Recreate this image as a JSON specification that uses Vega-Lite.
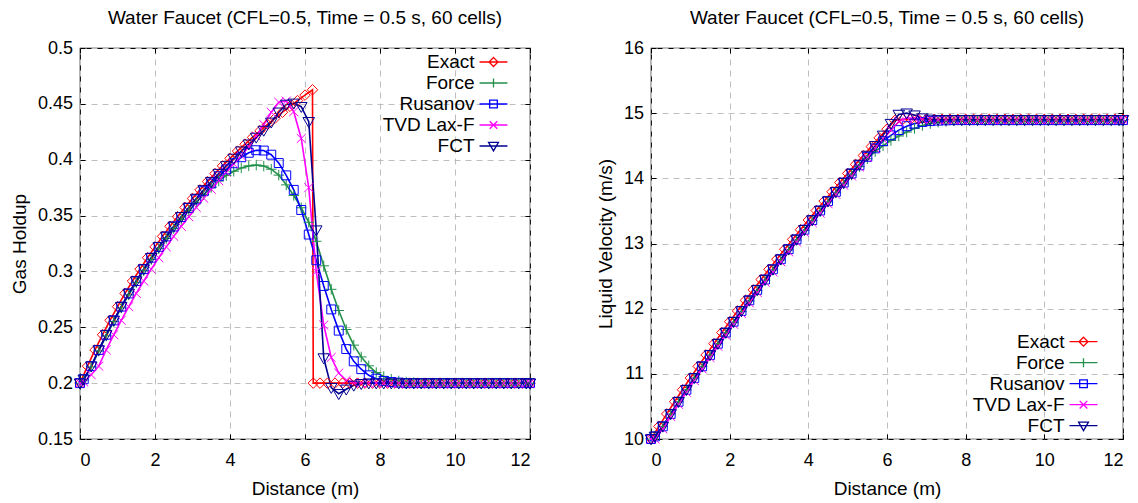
{
"$schema": "https://vega.github.io/schema/vega-lite/v6.json",
"background": "white",
"padding": {"left": 9, "top": 8, "right": 0, "bottom": 0},
"config": {
  "font": "Liberation Sans",
  "view": {"stroke": "black", "strokeWidth": 1.2},
  "axis": {
    "labelFont": "Liberation Sans", "labelFontSize": 18, "labelColor": "black",
    "titleFont": "Liberation Sans", "titleFontSize": 19, "titleFontWeight": "normal", "titleColor": "black",
    "domain": false, "ticks": true, "tickSize": -5, "tickColor": "black", "tickWidth": 1,
    "grid": true, "gridColor": "#bebebe", "gridDash": [6, 5], "gridWidth": 1,
    "format": "~g"
  },
  "axisX": {"labelPadding": 17, "titlePadding": 10},
  "axisY": {"labelPadding": 12.5, "titlePadding": 8},
  "legend": {
    "title": null, "labelFont": "Liberation Sans", "labelFontSize": 19, "labelColor": "black",
    "symbolSize": 81, "symbolStrokeWidth": 1.3, "symbolFillColor": "transparent", "rowPadding": 1, "padding": 0
  },
  "title": {"fontSize": 19, "fontWeight": "normal", "color": "black", "font": "Liberation Sans", "offset": 11}
},
"datasets": {
"gas": [
{"m":"Exact","x":0,"y":0.2},{"m":"Exact","x":0.2,"y":0.2152},{"m":"Exact","x":0.4,"y":0.2297},{"m":"Exact","x":0.6,"y":0.2433},{"m":"Exact","x":0.8,"y":0.2562},{"m":"Exact","x":1,"y":0.2685},{"m":"Exact","x":1.2,"y":0.2803},{"m":"Exact","x":1.4,"y":0.2914},{"m":"Exact","x":1.6,"y":0.3021},{"m":"Exact","x":1.8,"y":0.3123},{"m":"Exact","x":2,"y":0.322},{"m":"Exact","x":2.2,"y":0.3314},{"m":"Exact","x":2.4,"y":0.3404},{"m":"Exact","x":2.6,"y":0.349},{"m":"Exact","x":2.8,"y":0.3573},{"m":"Exact","x":3,"y":0.3653},{"m":"Exact","x":3.2,"y":0.373},{"m":"Exact","x":3.4,"y":0.3804},{"m":"Exact","x":3.6,"y":0.3876},{"m":"Exact","x":3.8,"y":0.3945},{"m":"Exact","x":4,"y":0.4012},{"m":"Exact","x":4.2,"y":0.4077},{"m":"Exact","x":4.4,"y":0.4139},{"m":"Exact","x":4.6,"y":0.42},{"m":"Exact","x":4.8,"y":0.4259},{"m":"Exact","x":5,"y":0.4316},{"m":"Exact","x":5.2,"y":0.4371},{"m":"Exact","x":5.4,"y":0.4425},{"m":"Exact","x":5.6,"y":0.4478},{"m":"Exact","x":5.8,"y":0.4529},{"m":"Exact","x":6,"y":0.4578},{"m":"Exact","x":6.2,"y":0.4626},{"m":"Exact","x":6.22,"y":0.2},{"m":"Exact","x":6.4,"y":0.2},{"m":"Exact","x":6.6,"y":0.2},{"m":"Exact","x":6.8,"y":0.2},{"m":"Exact","x":7,"y":0.2},{"m":"Exact","x":7.2,"y":0.2},{"m":"Exact","x":7.4,"y":0.2},{"m":"Exact","x":7.6,"y":0.2},{"m":"Exact","x":7.8,"y":0.2},{"m":"Exact","x":8,"y":0.2},{"m":"Exact","x":8.2,"y":0.2},{"m":"Exact","x":8.4,"y":0.2},{"m":"Exact","x":8.6,"y":0.2},{"m":"Exact","x":8.8,"y":0.2},{"m":"Exact","x":9,"y":0.2},{"m":"Exact","x":9.2,"y":0.2},{"m":"Exact","x":9.4,"y":0.2},{"m":"Exact","x":9.6,"y":0.2},{"m":"Exact","x":9.8,"y":0.2},{"m":"Exact","x":10,"y":0.2},{"m":"Exact","x":10.2,"y":0.2},{"m":"Exact","x":10.4,"y":0.2},{"m":"Exact","x":10.6,"y":0.2},{"m":"Exact","x":10.8,"y":0.2},{"m":"Exact","x":11,"y":0.2},{"m":"Exact","x":11.2,"y":0.2},{"m":"Exact","x":11.4,"y":0.2},{"m":"Exact","x":11.6,"y":0.2},{"m":"Exact","x":11.8,"y":0.2},{"m":"Exact","x":12,"y":0.2},
{"m":"Force","x":0,"y":0.2},{"m":"Force","x":0.1,"y":0.203},{"m":"Force","x":0.3,"y":0.2145},{"m":"Force","x":0.5,"y":0.2288},{"m":"Force","x":0.7,"y":0.2423},{"m":"Force","x":0.9,"y":0.2551},{"m":"Force","x":1.1,"y":0.2673},{"m":"Force","x":1.3,"y":0.279},{"m":"Force","x":1.5,"y":0.29},{"m":"Force","x":1.7,"y":0.3006},{"m":"Force","x":1.9,"y":0.3107},{"m":"Force","x":2.1,"y":0.3203},{"m":"Force","x":2.3,"y":0.3295},{"m":"Force","x":2.5,"y":0.3383},{"m":"Force","x":2.7,"y":0.3466},{"m":"Force","x":2.9,"y":0.3544},{"m":"Force","x":3.1,"y":0.3618},{"m":"Force","x":3.3,"y":0.3688},{"m":"Force","x":3.5,"y":0.3752},{"m":"Force","x":3.7,"y":0.381},{"m":"Force","x":3.9,"y":0.3858},{"m":"Force","x":4.1,"y":0.3897},{"m":"Force","x":4.3,"y":0.3926},{"m":"Force","x":4.5,"y":0.3945},{"m":"Force","x":4.7,"y":0.3952},{"m":"Force","x":4.9,"y":0.3943},{"m":"Force","x":5.1,"y":0.3915},{"m":"Force","x":5.3,"y":0.3862},{"m":"Force","x":5.5,"y":0.3775},{"m":"Force","x":5.7,"y":0.368},{"m":"Force","x":5.9,"y":0.357},{"m":"Force","x":6.1,"y":0.344},{"m":"Force","x":6.3,"y":0.327},{"m":"Force","x":6.5,"y":0.305},{"m":"Force","x":6.7,"y":0.284},{"m":"Force","x":6.9,"y":0.265},{"m":"Force","x":7.1,"y":0.248},{"m":"Force","x":7.3,"y":0.234},{"m":"Force","x":7.5,"y":0.2235},{"m":"Force","x":7.7,"y":0.2155},{"m":"Force","x":7.9,"y":0.2095},{"m":"Force","x":8.1,"y":0.206},{"m":"Force","x":8.3,"y":0.2035},{"m":"Force","x":8.5,"y":0.202},{"m":"Force","x":8.7,"y":0.201},{"m":"Force","x":8.9,"y":0.2005},{"m":"Force","x":9.1,"y":0.2},{"m":"Force","x":9.3,"y":0.2},{"m":"Force","x":9.5,"y":0.2},{"m":"Force","x":9.7,"y":0.2},{"m":"Force","x":9.9,"y":0.2},{"m":"Force","x":10.1,"y":0.2},{"m":"Force","x":10.3,"y":0.2},{"m":"Force","x":10.5,"y":0.2},{"m":"Force","x":10.7,"y":0.2},{"m":"Force","x":10.9,"y":0.2},{"m":"Force","x":11.1,"y":0.2},{"m":"Force","x":11.3,"y":0.2},{"m":"Force","x":11.5,"y":0.2},{"m":"Force","x":11.7,"y":0.2},{"m":"Force","x":11.9,"y":0.2},{"m":"Force","x":12,"y":0.2},
{"m":"Rusanov","x":0,"y":0.2},{"m":"Rusanov","x":0.1,"y":0.2035},{"m":"Rusanov","x":0.3,"y":0.2152},{"m":"Rusanov","x":0.5,"y":0.2297},{"m":"Rusanov","x":0.7,"y":0.2433},{"m":"Rusanov","x":0.9,"y":0.2562},{"m":"Rusanov","x":1.1,"y":0.2685},{"m":"Rusanov","x":1.3,"y":0.2803},{"m":"Rusanov","x":1.5,"y":0.2914},{"m":"Rusanov","x":1.7,"y":0.3021},{"m":"Rusanov","x":1.9,"y":0.3123},{"m":"Rusanov","x":2.1,"y":0.322},{"m":"Rusanov","x":2.3,"y":0.3313},{"m":"Rusanov","x":2.5,"y":0.3402},{"m":"Rusanov","x":2.7,"y":0.3487},{"m":"Rusanov","x":2.9,"y":0.3568},{"m":"Rusanov","x":3.1,"y":0.3645},{"m":"Rusanov","x":3.3,"y":0.3718},{"m":"Rusanov","x":3.5,"y":0.3787},{"m":"Rusanov","x":3.7,"y":0.3852},{"m":"Rusanov","x":3.9,"y":0.3913},{"m":"Rusanov","x":4.1,"y":0.3968},{"m":"Rusanov","x":4.3,"y":0.4022},{"m":"Rusanov","x":4.5,"y":0.4062},{"m":"Rusanov","x":4.7,"y":0.4085},{"m":"Rusanov","x":4.9,"y":0.4082},{"m":"Rusanov","x":5.1,"y":0.4045},{"m":"Rusanov","x":5.3,"y":0.397},{"m":"Rusanov","x":5.5,"y":0.386},{"m":"Rusanov","x":5.7,"y":0.373},{"m":"Rusanov","x":5.9,"y":0.355},{"m":"Rusanov","x":6.1,"y":0.333},{"m":"Rusanov","x":6.3,"y":0.31},{"m":"Rusanov","x":6.5,"y":0.287},{"m":"Rusanov","x":6.7,"y":0.266},{"m":"Rusanov","x":6.9,"y":0.247},{"m":"Rusanov","x":7.1,"y":0.2305},{"m":"Rusanov","x":7.3,"y":0.2195},{"m":"Rusanov","x":7.5,"y":0.2125},{"m":"Rusanov","x":7.7,"y":0.207},{"m":"Rusanov","x":7.9,"y":0.204},{"m":"Rusanov","x":8.1,"y":0.202},{"m":"Rusanov","x":8.3,"y":0.201},{"m":"Rusanov","x":8.5,"y":0.2005},{"m":"Rusanov","x":8.7,"y":0.2},{"m":"Rusanov","x":8.9,"y":0.2},{"m":"Rusanov","x":9.1,"y":0.2},{"m":"Rusanov","x":9.3,"y":0.2},{"m":"Rusanov","x":9.5,"y":0.2},{"m":"Rusanov","x":9.7,"y":0.2},{"m":"Rusanov","x":9.9,"y":0.2},{"m":"Rusanov","x":10.1,"y":0.2},{"m":"Rusanov","x":10.3,"y":0.2},{"m":"Rusanov","x":10.5,"y":0.2},{"m":"Rusanov","x":10.7,"y":0.2},{"m":"Rusanov","x":10.9,"y":0.2},{"m":"Rusanov","x":11.1,"y":0.2},{"m":"Rusanov","x":11.3,"y":0.2},{"m":"Rusanov","x":11.5,"y":0.2},{"m":"Rusanov","x":11.7,"y":0.2},{"m":"Rusanov","x":11.9,"y":0.2},{"m":"Rusanov","x":12,"y":0.2},
{"m":"TVD Lax-F","x":0,"y":0.2},{"m":"TVD Lax-F","x":0.1,"y":0.201},{"m":"TVD Lax-F","x":0.3,"y":0.2075},{"m":"TVD Lax-F","x":0.5,"y":0.2152},{"m":"TVD Lax-F","x":0.7,"y":0.2297},{"m":"TVD Lax-F","x":0.9,"y":0.2433},{"m":"TVD Lax-F","x":1.1,"y":0.2562},{"m":"TVD Lax-F","x":1.3,"y":0.2685},{"m":"TVD Lax-F","x":1.5,"y":0.2803},{"m":"TVD Lax-F","x":1.7,"y":0.2914},{"m":"TVD Lax-F","x":1.9,"y":0.3021},{"m":"TVD Lax-F","x":2.1,"y":0.3123},{"m":"TVD Lax-F","x":2.3,"y":0.322},{"m":"TVD Lax-F","x":2.5,"y":0.3314},{"m":"TVD Lax-F","x":2.7,"y":0.3404},{"m":"TVD Lax-F","x":2.9,"y":0.349},{"m":"TVD Lax-F","x":3.1,"y":0.3573},{"m":"TVD Lax-F","x":3.3,"y":0.3655},{"m":"TVD Lax-F","x":3.5,"y":0.3735},{"m":"TVD Lax-F","x":3.7,"y":0.3812},{"m":"TVD Lax-F","x":3.9,"y":0.3888},{"m":"TVD Lax-F","x":4.1,"y":0.3962},{"m":"TVD Lax-F","x":4.3,"y":0.4035},{"m":"TVD Lax-F","x":4.5,"y":0.4115},{"m":"TVD Lax-F","x":4.7,"y":0.421},{"m":"TVD Lax-F","x":4.9,"y":0.4315},{"m":"TVD Lax-F","x":5.1,"y":0.4425},{"m":"TVD Lax-F","x":5.3,"y":0.4515},{"m":"TVD Lax-F","x":5.5,"y":0.4525},{"m":"TVD Lax-F","x":5.7,"y":0.443},{"m":"TVD Lax-F","x":5.9,"y":0.419},{"m":"TVD Lax-F","x":6.1,"y":0.375},{"m":"TVD Lax-F","x":6.3,"y":0.3},{"m":"TVD Lax-F","x":6.5,"y":0.252},{"m":"TVD Lax-F","x":6.7,"y":0.223},{"m":"TVD Lax-F","x":6.9,"y":0.209},{"m":"TVD Lax-F","x":7.1,"y":0.2025},{"m":"TVD Lax-F","x":7.3,"y":0.2005},{"m":"TVD Lax-F","x":7.5,"y":0.2},{"m":"TVD Lax-F","x":7.7,"y":0.2},{"m":"TVD Lax-F","x":7.9,"y":0.2},{"m":"TVD Lax-F","x":8.1,"y":0.2},{"m":"TVD Lax-F","x":8.3,"y":0.2},{"m":"TVD Lax-F","x":8.5,"y":0.2},{"m":"TVD Lax-F","x":8.7,"y":0.2},{"m":"TVD Lax-F","x":8.9,"y":0.2},{"m":"TVD Lax-F","x":9.1,"y":0.2},{"m":"TVD Lax-F","x":9.3,"y":0.2},{"m":"TVD Lax-F","x":9.5,"y":0.2},{"m":"TVD Lax-F","x":9.7,"y":0.2},{"m":"TVD Lax-F","x":9.9,"y":0.2},{"m":"TVD Lax-F","x":10.1,"y":0.2},{"m":"TVD Lax-F","x":10.3,"y":0.2},{"m":"TVD Lax-F","x":10.5,"y":0.2},{"m":"TVD Lax-F","x":10.7,"y":0.2},{"m":"TVD Lax-F","x":10.9,"y":0.2},{"m":"TVD Lax-F","x":11.1,"y":0.2},{"m":"TVD Lax-F","x":11.3,"y":0.2},{"m":"TVD Lax-F","x":11.5,"y":0.2},{"m":"TVD Lax-F","x":11.7,"y":0.2},{"m":"TVD Lax-F","x":11.9,"y":0.2},{"m":"TVD Lax-F","x":12,"y":0.2},
{"m":"FCT","x":0,"y":0.2},{"m":"FCT","x":0.1,"y":0.2035},{"m":"FCT","x":0.3,"y":0.2152},{"m":"FCT","x":0.5,"y":0.2297},{"m":"FCT","x":0.7,"y":0.2433},{"m":"FCT","x":0.9,"y":0.2562},{"m":"FCT","x":1.1,"y":0.2685},{"m":"FCT","x":1.3,"y":0.2803},{"m":"FCT","x":1.5,"y":0.2914},{"m":"FCT","x":1.7,"y":0.3021},{"m":"FCT","x":1.9,"y":0.3123},{"m":"FCT","x":2.1,"y":0.322},{"m":"FCT","x":2.3,"y":0.3314},{"m":"FCT","x":2.5,"y":0.3404},{"m":"FCT","x":2.7,"y":0.349},{"m":"FCT","x":2.9,"y":0.3573},{"m":"FCT","x":3.1,"y":0.3653},{"m":"FCT","x":3.3,"y":0.373},{"m":"FCT","x":3.5,"y":0.3804},{"m":"FCT","x":3.7,"y":0.3876},{"m":"FCT","x":3.9,"y":0.3945},{"m":"FCT","x":4.1,"y":0.4012},{"m":"FCT","x":4.3,"y":0.4077},{"m":"FCT","x":4.5,"y":0.4139},{"m":"FCT","x":4.7,"y":0.42},{"m":"FCT","x":4.9,"y":0.4262},{"m":"FCT","x":5.1,"y":0.4335},{"m":"FCT","x":5.3,"y":0.4425},{"m":"FCT","x":5.5,"y":0.4495},{"m":"FCT","x":5.7,"y":0.4505},{"m":"FCT","x":5.9,"y":0.4475},{"m":"FCT","x":6.1,"y":0.434},{"m":"FCT","x":6.3,"y":0.337},{"m":"FCT","x":6.5,"y":0.2225},{"m":"FCT","x":6.7,"y":0.196},{"m":"FCT","x":6.9,"y":0.1905},{"m":"FCT","x":7.1,"y":0.1945},{"m":"FCT","x":7.3,"y":0.198},{"m":"FCT","x":7.5,"y":0.1995},{"m":"FCT","x":7.7,"y":0.2},{"m":"FCT","x":7.9,"y":0.2},{"m":"FCT","x":8.1,"y":0.2},{"m":"FCT","x":8.3,"y":0.2},{"m":"FCT","x":8.5,"y":0.2},{"m":"FCT","x":8.7,"y":0.2},{"m":"FCT","x":8.9,"y":0.2},{"m":"FCT","x":9.1,"y":0.2},{"m":"FCT","x":9.3,"y":0.2},{"m":"FCT","x":9.5,"y":0.2},{"m":"FCT","x":9.7,"y":0.2},{"m":"FCT","x":9.9,"y":0.2},{"m":"FCT","x":10.1,"y":0.2},{"m":"FCT","x":10.3,"y":0.2},{"m":"FCT","x":10.5,"y":0.2},{"m":"FCT","x":10.7,"y":0.2},{"m":"FCT","x":10.9,"y":0.2},{"m":"FCT","x":11.1,"y":0.2},{"m":"FCT","x":11.3,"y":0.2},{"m":"FCT","x":11.5,"y":0.2},{"m":"FCT","x":11.7,"y":0.2},{"m":"FCT","x":11.9,"y":0.2},{"m":"FCT","x":12,"y":0.2}
],
"vel": [
{"m":"Exact","x":0,"y":10},{"m":"Exact","x":0.2,"y":10.194},{"m":"Exact","x":0.4,"y":10.385},{"m":"Exact","x":0.6,"y":10.572},{"m":"Exact","x":0.8,"y":10.756},{"m":"Exact","x":1,"y":10.937},{"m":"Exact","x":1.2,"y":11.115},{"m":"Exact","x":1.4,"y":11.29},{"m":"Exact","x":1.6,"y":11.463},{"m":"Exact","x":1.8,"y":11.633},{"m":"Exact","x":2,"y":11.8},{"m":"Exact","x":2.2,"y":11.965},{"m":"Exact","x":2.4,"y":12.128},{"m":"Exact","x":2.6,"y":12.289},{"m":"Exact","x":2.8,"y":12.447},{"m":"Exact","x":3,"y":12.604},{"m":"Exact","x":3.2,"y":12.759},{"m":"Exact","x":3.4,"y":12.912},{"m":"Exact","x":3.6,"y":13.063},{"m":"Exact","x":3.8,"y":13.212},{"m":"Exact","x":4,"y":13.36},{"m":"Exact","x":4.2,"y":13.506},{"m":"Exact","x":4.4,"y":13.65},{"m":"Exact","x":4.6,"y":13.793},{"m":"Exact","x":4.8,"y":13.935},{"m":"Exact","x":5,"y":14.075},{"m":"Exact","x":5.2,"y":14.214},{"m":"Exact","x":5.4,"y":14.351},{"m":"Exact","x":5.6,"y":14.487},{"m":"Exact","x":5.8,"y":14.622},{"m":"Exact","x":6,"y":14.755},{"m":"Exact","x":6.2,"y":14.888},{"m":"Exact","x":6.4,"y":14.905},{"m":"Exact","x":6.6,"y":14.905},{"m":"Exact","x":6.8,"y":14.905},{"m":"Exact","x":7,"y":14.905},{"m":"Exact","x":7.2,"y":14.905},{"m":"Exact","x":7.4,"y":14.905},{"m":"Exact","x":7.6,"y":14.905},{"m":"Exact","x":7.8,"y":14.905},{"m":"Exact","x":8,"y":14.905},{"m":"Exact","x":8.2,"y":14.905},{"m":"Exact","x":8.4,"y":14.905},{"m":"Exact","x":8.6,"y":14.905},{"m":"Exact","x":8.8,"y":14.905},{"m":"Exact","x":9,"y":14.905},{"m":"Exact","x":9.2,"y":14.905},{"m":"Exact","x":9.4,"y":14.905},{"m":"Exact","x":9.6,"y":14.905},{"m":"Exact","x":9.8,"y":14.905},{"m":"Exact","x":10,"y":14.905},{"m":"Exact","x":10.2,"y":14.905},{"m":"Exact","x":10.4,"y":14.905},{"m":"Exact","x":10.6,"y":14.905},{"m":"Exact","x":10.8,"y":14.905},{"m":"Exact","x":11,"y":14.905},{"m":"Exact","x":11.2,"y":14.905},{"m":"Exact","x":11.4,"y":14.905},{"m":"Exact","x":11.6,"y":14.905},{"m":"Exact","x":11.8,"y":14.905},{"m":"Exact","x":12,"y":14.905},
{"m":"Force","x":0,"y":10},{"m":"Force","x":0.1,"y":10.04},{"m":"Force","x":0.3,"y":10.194},{"m":"Force","x":0.5,"y":10.385},{"m":"Force","x":0.7,"y":10.572},{"m":"Force","x":0.9,"y":10.756},{"m":"Force","x":1.1,"y":10.937},{"m":"Force","x":1.3,"y":11.115},{"m":"Force","x":1.5,"y":11.29},{"m":"Force","x":1.7,"y":11.463},{"m":"Force","x":1.9,"y":11.633},{"m":"Force","x":2.1,"y":11.79},{"m":"Force","x":2.3,"y":11.955},{"m":"Force","x":2.5,"y":12.118},{"m":"Force","x":2.7,"y":12.279},{"m":"Force","x":2.9,"y":12.437},{"m":"Force","x":3.1,"y":12.594},{"m":"Force","x":3.3,"y":12.749},{"m":"Force","x":3.5,"y":12.901},{"m":"Force","x":3.7,"y":13.053},{"m":"Force","x":3.9,"y":13.202},{"m":"Force","x":4.1,"y":13.35},{"m":"Force","x":4.3,"y":13.496},{"m":"Force","x":4.5,"y":13.64},{"m":"Force","x":4.7,"y":13.78},{"m":"Force","x":4.9,"y":13.915},{"m":"Force","x":5.1,"y":14.05},{"m":"Force","x":5.3,"y":14.18},{"m":"Force","x":5.5,"y":14.3},{"m":"Force","x":5.7,"y":14.41},{"m":"Force","x":5.9,"y":14.5},{"m":"Force","x":6.1,"y":14.58},{"m":"Force","x":6.3,"y":14.65},{"m":"Force","x":6.5,"y":14.71},{"m":"Force","x":6.7,"y":14.765},{"m":"Force","x":6.9,"y":14.81},{"m":"Force","x":7.1,"y":14.84},{"m":"Force","x":7.3,"y":14.862},{"m":"Force","x":7.5,"y":14.876},{"m":"Force","x":7.7,"y":14.884},{"m":"Force","x":7.9,"y":14.888},{"m":"Force","x":8.1,"y":14.89},{"m":"Force","x":8.3,"y":14.89},{"m":"Force","x":8.5,"y":14.89},{"m":"Force","x":8.7,"y":14.89},{"m":"Force","x":8.9,"y":14.89},{"m":"Force","x":9.1,"y":14.89},{"m":"Force","x":9.3,"y":14.89},{"m":"Force","x":9.5,"y":14.89},{"m":"Force","x":9.7,"y":14.89},{"m":"Force","x":9.9,"y":14.89},{"m":"Force","x":10.1,"y":14.89},{"m":"Force","x":10.3,"y":14.89},{"m":"Force","x":10.5,"y":14.89},{"m":"Force","x":10.7,"y":14.89},{"m":"Force","x":10.9,"y":14.89},{"m":"Force","x":11.1,"y":14.89},{"m":"Force","x":11.3,"y":14.89},{"m":"Force","x":11.5,"y":14.89},{"m":"Force","x":11.7,"y":14.89},{"m":"Force","x":11.9,"y":14.89},{"m":"Force","x":12,"y":14.89},
{"m":"Rusanov","x":0,"y":10},{"m":"Rusanov","x":0.1,"y":10.04},{"m":"Rusanov","x":0.3,"y":10.194},{"m":"Rusanov","x":0.5,"y":10.385},{"m":"Rusanov","x":0.7,"y":10.572},{"m":"Rusanov","x":0.9,"y":10.756},{"m":"Rusanov","x":1.1,"y":10.937},{"m":"Rusanov","x":1.3,"y":11.115},{"m":"Rusanov","x":1.5,"y":11.29},{"m":"Rusanov","x":1.7,"y":11.463},{"m":"Rusanov","x":1.9,"y":11.633},{"m":"Rusanov","x":2.1,"y":11.8},{"m":"Rusanov","x":2.3,"y":11.965},{"m":"Rusanov","x":2.5,"y":12.128},{"m":"Rusanov","x":2.7,"y":12.289},{"m":"Rusanov","x":2.9,"y":12.447},{"m":"Rusanov","x":3.1,"y":12.604},{"m":"Rusanov","x":3.3,"y":12.759},{"m":"Rusanov","x":3.5,"y":12.912},{"m":"Rusanov","x":3.7,"y":13.063},{"m":"Rusanov","x":3.9,"y":13.212},{"m":"Rusanov","x":4.1,"y":13.36},{"m":"Rusanov","x":4.3,"y":13.506},{"m":"Rusanov","x":4.5,"y":13.65},{"m":"Rusanov","x":4.7,"y":13.793},{"m":"Rusanov","x":4.9,"y":13.935},{"m":"Rusanov","x":5.1,"y":14.075},{"m":"Rusanov","x":5.3,"y":14.2},{"m":"Rusanov","x":5.5,"y":14.33},{"m":"Rusanov","x":5.7,"y":14.46},{"m":"Rusanov","x":5.9,"y":14.57},{"m":"Rusanov","x":6.1,"y":14.66},{"m":"Rusanov","x":6.3,"y":14.74},{"m":"Rusanov","x":6.5,"y":14.8},{"m":"Rusanov","x":6.7,"y":14.84},{"m":"Rusanov","x":6.9,"y":14.865},{"m":"Rusanov","x":7.1,"y":14.878},{"m":"Rusanov","x":7.3,"y":14.886},{"m":"Rusanov","x":7.5,"y":14.89},{"m":"Rusanov","x":7.7,"y":14.893},{"m":"Rusanov","x":7.9,"y":14.893},{"m":"Rusanov","x":8.1,"y":14.893},{"m":"Rusanov","x":8.3,"y":14.893},{"m":"Rusanov","x":8.5,"y":14.893},{"m":"Rusanov","x":8.7,"y":14.893},{"m":"Rusanov","x":8.9,"y":14.893},{"m":"Rusanov","x":9.1,"y":14.893},{"m":"Rusanov","x":9.3,"y":14.893},{"m":"Rusanov","x":9.5,"y":14.893},{"m":"Rusanov","x":9.7,"y":14.893},{"m":"Rusanov","x":9.9,"y":14.893},{"m":"Rusanov","x":10.1,"y":14.893},{"m":"Rusanov","x":10.3,"y":14.893},{"m":"Rusanov","x":10.5,"y":14.893},{"m":"Rusanov","x":10.7,"y":14.893},{"m":"Rusanov","x":10.9,"y":14.893},{"m":"Rusanov","x":11.1,"y":14.893},{"m":"Rusanov","x":11.3,"y":14.893},{"m":"Rusanov","x":11.5,"y":14.893},{"m":"Rusanov","x":11.7,"y":14.893},{"m":"Rusanov","x":11.9,"y":14.893},{"m":"Rusanov","x":12,"y":14.893},
{"m":"TVD Lax-F","x":0,"y":10},{"m":"TVD Lax-F","x":0.1,"y":10.0},{"m":"TVD Lax-F","x":0.3,"y":10.154},{"m":"TVD Lax-F","x":0.5,"y":10.345},{"m":"TVD Lax-F","x":0.7,"y":10.532},{"m":"TVD Lax-F","x":0.9,"y":10.716},{"m":"TVD Lax-F","x":1.1,"y":10.897},{"m":"TVD Lax-F","x":1.3,"y":11.075},{"m":"TVD Lax-F","x":1.5,"y":11.25},{"m":"TVD Lax-F","x":1.7,"y":11.423},{"m":"TVD Lax-F","x":1.9,"y":11.593},{"m":"TVD Lax-F","x":2.1,"y":11.76},{"m":"TVD Lax-F","x":2.3,"y":11.925},{"m":"TVD Lax-F","x":2.5,"y":12.088},{"m":"TVD Lax-F","x":2.7,"y":12.249},{"m":"TVD Lax-F","x":2.9,"y":12.407},{"m":"TVD Lax-F","x":3.1,"y":12.564},{"m":"TVD Lax-F","x":3.3,"y":12.719},{"m":"TVD Lax-F","x":3.5,"y":12.872},{"m":"TVD Lax-F","x":3.7,"y":13.023},{"m":"TVD Lax-F","x":3.9,"y":13.172},{"m":"TVD Lax-F","x":4.1,"y":13.32},{"m":"TVD Lax-F","x":4.3,"y":13.466},{"m":"TVD Lax-F","x":4.5,"y":13.61},{"m":"TVD Lax-F","x":4.7,"y":13.753},{"m":"TVD Lax-F","x":4.9,"y":13.895},{"m":"TVD Lax-F","x":5.1,"y":14.035},{"m":"TVD Lax-F","x":5.3,"y":14.174},{"m":"TVD Lax-F","x":5.5,"y":14.32},{"m":"TVD Lax-F","x":5.7,"y":14.46},{"m":"TVD Lax-F","x":5.9,"y":14.6},{"m":"TVD Lax-F","x":6.1,"y":14.74},{"m":"TVD Lax-F","x":6.3,"y":14.87},{"m":"TVD Lax-F","x":6.5,"y":14.93},{"m":"TVD Lax-F","x":6.7,"y":14.92},{"m":"TVD Lax-F","x":6.9,"y":14.908},{"m":"TVD Lax-F","x":7.1,"y":14.902},{"m":"TVD Lax-F","x":7.3,"y":14.9},{"m":"TVD Lax-F","x":7.5,"y":14.9},{"m":"TVD Lax-F","x":7.7,"y":14.9},{"m":"TVD Lax-F","x":7.9,"y":14.9},{"m":"TVD Lax-F","x":8.1,"y":14.9},{"m":"TVD Lax-F","x":8.3,"y":14.9},{"m":"TVD Lax-F","x":8.5,"y":14.9},{"m":"TVD Lax-F","x":8.7,"y":14.9},{"m":"TVD Lax-F","x":8.9,"y":14.9},{"m":"TVD Lax-F","x":9.1,"y":14.9},{"m":"TVD Lax-F","x":9.3,"y":14.9},{"m":"TVD Lax-F","x":9.5,"y":14.9},{"m":"TVD Lax-F","x":9.7,"y":14.9},{"m":"TVD Lax-F","x":9.9,"y":14.9},{"m":"TVD Lax-F","x":10.1,"y":14.9},{"m":"TVD Lax-F","x":10.3,"y":14.9},{"m":"TVD Lax-F","x":10.5,"y":14.9},{"m":"TVD Lax-F","x":10.7,"y":14.9},{"m":"TVD Lax-F","x":10.9,"y":14.9},{"m":"TVD Lax-F","x":11.1,"y":14.9},{"m":"TVD Lax-F","x":11.3,"y":14.9},{"m":"TVD Lax-F","x":11.5,"y":14.9},{"m":"TVD Lax-F","x":11.7,"y":14.9},{"m":"TVD Lax-F","x":11.9,"y":14.9},{"m":"TVD Lax-F","x":12,"y":14.9},
{"m":"FCT","x":0,"y":10},{"m":"FCT","x":0.1,"y":10.04},{"m":"FCT","x":0.3,"y":10.194},{"m":"FCT","x":0.5,"y":10.385},{"m":"FCT","x":0.7,"y":10.572},{"m":"FCT","x":0.9,"y":10.756},{"m":"FCT","x":1.1,"y":10.937},{"m":"FCT","x":1.3,"y":11.115},{"m":"FCT","x":1.5,"y":11.29},{"m":"FCT","x":1.7,"y":11.463},{"m":"FCT","x":1.9,"y":11.633},{"m":"FCT","x":2.1,"y":11.8},{"m":"FCT","x":2.3,"y":11.965},{"m":"FCT","x":2.5,"y":12.128},{"m":"FCT","x":2.7,"y":12.289},{"m":"FCT","x":2.9,"y":12.447},{"m":"FCT","x":3.1,"y":12.604},{"m":"FCT","x":3.3,"y":12.759},{"m":"FCT","x":3.5,"y":12.912},{"m":"FCT","x":3.7,"y":13.063},{"m":"FCT","x":3.9,"y":13.212},{"m":"FCT","x":4.1,"y":13.36},{"m":"FCT","x":4.3,"y":13.506},{"m":"FCT","x":4.5,"y":13.65},{"m":"FCT","x":4.7,"y":13.793},{"m":"FCT","x":4.9,"y":13.935},{"m":"FCT","x":5.1,"y":14.075},{"m":"FCT","x":5.3,"y":14.214},{"m":"FCT","x":5.5,"y":14.351},{"m":"FCT","x":5.7,"y":14.5},{"m":"FCT","x":5.9,"y":14.66},{"m":"FCT","x":6.1,"y":14.84},{"m":"FCT","x":6.3,"y":14.98},{"m":"FCT","x":6.5,"y":15.0},{"m":"FCT","x":6.7,"y":14.97},{"m":"FCT","x":6.9,"y":14.925},{"m":"FCT","x":7.1,"y":14.905},{"m":"FCT","x":7.3,"y":14.9},{"m":"FCT","x":7.5,"y":14.9},{"m":"FCT","x":7.7,"y":14.9},{"m":"FCT","x":7.9,"y":14.9},{"m":"FCT","x":8.1,"y":14.9},{"m":"FCT","x":8.3,"y":14.9},{"m":"FCT","x":8.5,"y":14.9},{"m":"FCT","x":8.7,"y":14.9},{"m":"FCT","x":8.9,"y":14.9},{"m":"FCT","x":9.1,"y":14.9},{"m":"FCT","x":9.3,"y":14.9},{"m":"FCT","x":9.5,"y":14.9},{"m":"FCT","x":9.7,"y":14.9},{"m":"FCT","x":9.9,"y":14.9},{"m":"FCT","x":10.1,"y":14.9},{"m":"FCT","x":10.3,"y":14.9},{"m":"FCT","x":10.5,"y":14.9},{"m":"FCT","x":10.7,"y":14.9},{"m":"FCT","x":10.9,"y":14.9},{"m":"FCT","x":11.1,"y":14.9},{"m":"FCT","x":11.3,"y":14.9},{"m":"FCT","x":11.5,"y":14.9},{"m":"FCT","x":11.7,"y":14.9},{"m":"FCT","x":11.9,"y":14.9},{"m":"FCT","x":12,"y":14.9}
]
},
"spacing": 50,
"resolve": {"scale": {"color": "independent", "shape": "independent"}, "legend": {"color": "independent", "shape": "independent"}},
"hconcat": [
{
  "width": 450, "height": 391,
  "title": {"text": "Water Faucet (CFL=0.5, Time = 0.5 s, 60 cells)"},
  "data": {"name": "gas"},
  "resolve": {"axis": {"x": "independent", "y": "independent"}},
  "layer": [
    {"mark": {"type": "line", "strokeWidth": 1.6},
     "encoding": {
       "x": {"field": "x", "type": "quantitative", "scale": {"domain": [0, 12], "nice": false, "zero": false}, "axis": {"title": "Distance (m)", "values": [0, 2, 4, 6, 8, 10, 12]}},
       "y": {"field": "y", "type": "quantitative", "scale": {"domain": [0.15, 0.5], "nice": false, "zero": false}, "axis": {"title": "Gas Holdup", "values": [0.15, 0.2, 0.25, 0.3, 0.35, 0.4, 0.45, 0.5]}},
       "color": {"field": "m", "type": "nominal", "scale": {"domain": ["Exact", "Force", "Rusanov", "TVD Lax-F", "FCT"], "range": ["#ff0000", "#22904a", "#0000ff", "#ff00ff", "#000090"]},
          "legend": {"orient": "none", "legendX": 404, "legendY": 4.5, "labelAlign": "right", "labelOffset": -28.5}}
     }},
    {"transform": [{"filter": "datum.m === 'Exact'"}],
     "mark": {"type": "point", "filled": false, "size": 110, "strokeWidth": 1, "opacity": 1, "shape": "M0,-1L1,0L0,1L-1,0Z"},
     "encoding": {"x": {"field": "x", "type": "quantitative", "axis": null}, "y": {"field": "y", "type": "quantitative", "axis": null}, "color": {"field": "m", "type": "nominal"}}},
    {"transform": [{"filter": "datum.m === 'Force'"}],
     "mark": {"type": "point", "filled": false, "size": 110, "strokeWidth": 1, "opacity": 1, "shape": "M-1,0H1M0,-1V1"},
     "encoding": {"x": {"field": "x", "type": "quantitative", "axis": null}, "y": {"field": "y", "type": "quantitative", "axis": null}, "color": {"field": "m", "type": "nominal"}}},
    {"transform": [{"filter": "datum.m === 'Rusanov'"}],
     "mark": {"type": "point", "filled": false, "size": 110, "strokeWidth": 1, "opacity": 1, "shape": "M-0.85,-0.85H0.85V0.85H-0.85Z"},
     "encoding": {"x": {"field": "x", "type": "quantitative", "axis": null}, "y": {"field": "y", "type": "quantitative", "axis": null}, "color": {"field": "m", "type": "nominal"}}},
    {"transform": [{"filter": "datum.m === 'TVD Lax-F'"}],
     "mark": {"type": "point", "filled": false, "size": 110, "strokeWidth": 1, "opacity": 1, "shape": "M-0.85,-0.85L0.85,0.85M-0.85,0.85L0.85,-0.85"},
     "encoding": {"x": {"field": "x", "type": "quantitative", "axis": null}, "y": {"field": "y", "type": "quantitative", "axis": null}, "color": {"field": "m", "type": "nominal"}}},
    {"transform": [{"filter": "datum.m === 'FCT'"}],
     "mark": {"type": "point", "filled": false, "size": 110, "strokeWidth": 1, "opacity": 1, "shape": "M-1.1,-0.8H1.1L0,1.1Z"},
     "encoding": {"x": {"field": "x", "type": "quantitative", "axis": null}, "y": {"field": "y", "type": "quantitative", "axis": null}, "color": {"field": "m", "type": "nominal"}}},
    {"mark": {"type": "point", "filled": false, "size": 81, "opacity": 0},
     "encoding": {
       "x": {"field": "x", "type": "quantitative", "axis": {"orient": "top", "labels": false, "title": null, "grid": false, "values": [0, 2, 4, 6, 8, 10, 12]}},
       "y": {"field": "y", "type": "quantitative", "axis": {"orient": "right", "labels": false, "title": null, "grid": false, "values": [0.15, 0.2, 0.25, 0.3, 0.35, 0.4, 0.45, 0.5]}},
       "shape": {"field": "m", "type": "nominal", "scale": {"domain": ["Exact", "Force", "Rusanov", "TVD Lax-F", "FCT"], "range": ["M-3.1,0H3.1M0,-1L1,0L0,1L-1,0Z", "M-3.1,0H3.1M0,-1V1", "M-3.1,0H3.1M-0.85,-0.85H0.85V0.85H-0.85Z", "M-3.1,0H3.1M-0.85,-0.85L0.85,0.85M-0.85,0.85L0.85,-0.85", "M-3.1,0H3.1M-1.1,-0.8H1.1L0,1.1Z"]},
          "legend": {"orient": "none", "legendX": 404, "legendY": 4.5, "labelAlign": "right", "labelOffset": -28.5}}
     }}
  ]
},
{
  "width": 472, "height": 391,
  "title": {"text": "Water Faucet (CFL=0.5, Time = 0.5 s, 60 cells)"},
  "data": {"name": "vel"},
  "resolve": {"axis": {"x": "independent", "y": "independent"}},
  "layer": [
    {"mark": {"type": "line", "strokeWidth": 1.6},
     "encoding": {
       "x": {"field": "x", "type": "quantitative", "scale": {"domain": [0, 12], "nice": false, "zero": false}, "axis": {"title": "Distance (m)", "values": [0, 2, 4, 6, 8, 10, 12]}},
       "y": {"field": "y", "type": "quantitative", "scale": {"domain": [10, 16], "nice": false, "zero": false}, "axis": {"title": "Liquid Velocity (m/s)", "values": [10, 11, 12, 13, 14, 15, 16]}},
       "color": {"field": "m", "type": "nominal", "scale": {"domain": ["Exact", "Force", "Rusanov", "TVD Lax-F", "FCT"], "range": ["#ff0000", "#22904a", "#0000ff", "#ff00ff", "#000090"]},
          "legend": {"orient": "none", "legendX": 423, "legendY": 284.2, "labelAlign": "right", "labelOffset": -28.5}}
     }},
    {"transform": [{"filter": "datum.m === 'Exact'"}],
     "mark": {"type": "point", "filled": false, "size": 110, "strokeWidth": 1, "opacity": 1, "shape": "M0,-1L1,0L0,1L-1,0Z"},
     "encoding": {"x": {"field": "x", "type": "quantitative", "axis": null}, "y": {"field": "y", "type": "quantitative", "axis": null}, "color": {"field": "m", "type": "nominal"}}},
    {"transform": [{"filter": "datum.m === 'Force'"}],
     "mark": {"type": "point", "filled": false, "size": 110, "strokeWidth": 1, "opacity": 1, "shape": "M-1,0H1M0,-1V1"},
     "encoding": {"x": {"field": "x", "type": "quantitative", "axis": null}, "y": {"field": "y", "type": "quantitative", "axis": null}, "color": {"field": "m", "type": "nominal"}}},
    {"transform": [{"filter": "datum.m === 'Rusanov'"}],
     "mark": {"type": "point", "filled": false, "size": 110, "strokeWidth": 1, "opacity": 1, "shape": "M-0.85,-0.85H0.85V0.85H-0.85Z"},
     "encoding": {"x": {"field": "x", "type": "quantitative", "axis": null}, "y": {"field": "y", "type": "quantitative", "axis": null}, "color": {"field": "m", "type": "nominal"}}},
    {"transform": [{"filter": "datum.m === 'TVD Lax-F'"}],
     "mark": {"type": "point", "filled": false, "size": 110, "strokeWidth": 1, "opacity": 1, "shape": "M-0.85,-0.85L0.85,0.85M-0.85,0.85L0.85,-0.85"},
     "encoding": {"x": {"field": "x", "type": "quantitative", "axis": null}, "y": {"field": "y", "type": "quantitative", "axis": null}, "color": {"field": "m", "type": "nominal"}}},
    {"transform": [{"filter": "datum.m === 'FCT'"}],
     "mark": {"type": "point", "filled": false, "size": 110, "strokeWidth": 1, "opacity": 1, "shape": "M-1.1,-0.8H1.1L0,1.1Z"},
     "encoding": {"x": {"field": "x", "type": "quantitative", "axis": null}, "y": {"field": "y", "type": "quantitative", "axis": null}, "color": {"field": "m", "type": "nominal"}}},
    {"mark": {"type": "point", "filled": false, "size": 81, "opacity": 0},
     "encoding": {
       "x": {"field": "x", "type": "quantitative", "axis": {"orient": "top", "labels": false, "title": null, "grid": false, "values": [0, 2, 4, 6, 8, 10, 12]}},
       "y": {"field": "y", "type": "quantitative", "axis": {"orient": "right", "labels": false, "title": null, "grid": false, "values": [10, 11, 12, 13, 14, 15, 16]}},
       "shape": {"field": "m", "type": "nominal", "scale": {"domain": ["Exact", "Force", "Rusanov", "TVD Lax-F", "FCT"], "range": ["M-3.1,0H3.1M0,-1L1,0L0,1L-1,0Z", "M-3.1,0H3.1M0,-1V1", "M-3.1,0H3.1M-0.85,-0.85H0.85V0.85H-0.85Z", "M-3.1,0H3.1M-0.85,-0.85L0.85,0.85M-0.85,0.85L0.85,-0.85", "M-3.1,0H3.1M-1.1,-0.8H1.1L0,1.1Z"]},
          "legend": {"orient": "none", "legendX": 423, "legendY": 284.2, "labelAlign": "right", "labelOffset": -28.5}}
     }}
  ]
}
]
}
